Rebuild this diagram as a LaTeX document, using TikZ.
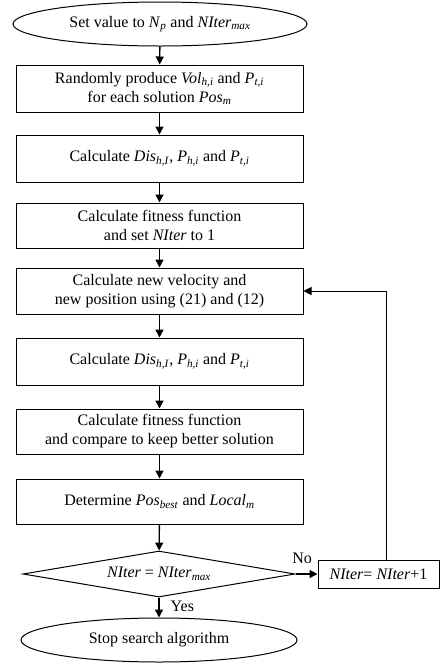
\documentclass[tikz,border=0pt]{standalone}
\usepackage{fontspec}
\setmainfont{Liberation Serif}
\usetikzlibrary{shapes.geometric,arrows.meta}
\newcommand{\iv}[2]{\textit{#1}\textsubscript{\textit{#2}}}
\begin{document}
\begin{tikzpicture}[x=1pt,y=-1pt,
  every node/.style={font=\fontsize{16}{19}\selectfont, align=center, inner sep=0pt},
  term/.style={draw, line width=1pt, ellipse},
  proc/.style={draw, line width=1pt, rectangle, minimum width=287pt},
  dec/.style={draw, line width=1pt, diamond, aspect=5.9, minimum width=272pt, minimum height=46pt},
  arr/.style={line width=1.4pt, -{Triangle[width=8pt,length=8pt]}},
  thinarr/.style={line width=1pt, -{Triangle[width=8pt,length=8pt]}}]
\useasboundingbox (0,0) rectangle (440,665);
\node[term, minimum width=294pt, minimum height=44pt] (start) at (160,24) {Set value to \iv{N}{p} and \iv{NIter}{max}};
\node[proc, minimum height=47pt] (b1) at (159.5,88.5) {Randomly produce \iv{Vol}{h,i} and \iv{P}{t,i}\\for each solution \iv{Pos}{m}};
\node[proc, minimum height=47pt] (b2) at (159.5,158.5) {Calculate \iv{Dis}{h,I}, \iv{P}{h,i} and \iv{P}{t,i}};
\node[proc, minimum height=45pt] (b3) at (159.5,225.5) {Calculate fitness function\\and set \textit{NIter} to 1};
\node[proc, minimum height=46pt] (b4) at (159.5,291) {Calculate new velocity and\\new position using (21) and (12)};
\node[proc, minimum height=47pt] (b5) at (159.5,361.5) {Calculate \iv{Dis}{h,I}, \iv{P}{h,i} and \iv{P}{t,i}};
\node[proc, minimum height=45pt] (b6) at (159.5,431.5) {Calculate fitness function\\and compare to keep better solution};
\node[proc, minimum height=45pt] (b7) at (159.5,501.5) {Determine \iv{Pos}{best} and \iv{Local}{m}};
\node[dec] (d) at (159,574) {\textit{NIter} = \iv{NIter}{max}};
\node[draw, line width=1pt, minimum width=121pt, minimum height=28pt] (nit) at (378.5,574) {\textit{NIter}= \textit{NIter}+1};
\node[term, minimum width=276pt, minimum height=44pt] (stop) at (159,640) {Stop search algorithm};
\coordinate (loopx) at (386,0);
\draw[arr] (start) -- (b1);
\draw[arr] (b1) -- (b2);
\draw[arr] (b2) -- (b3);
\draw[arr] (b3) -- (b4);
\draw[arr] (b4) -- (b5);
\draw[arr] (b5) -- (b6);
\draw[arr] (b6) -- (b7);
\draw[arr] (b7) -- (d);
\draw[arr] (d) -- (stop) node[pos=0.45, right=11pt] {Yes};
\draw[arr] (d.east) -- (nit.west) node[pos=0.3, above=10pt] {No};
\draw[thinarr] (nit.north -| loopx) |- (b4.east);
\end{tikzpicture}
\end{document}
